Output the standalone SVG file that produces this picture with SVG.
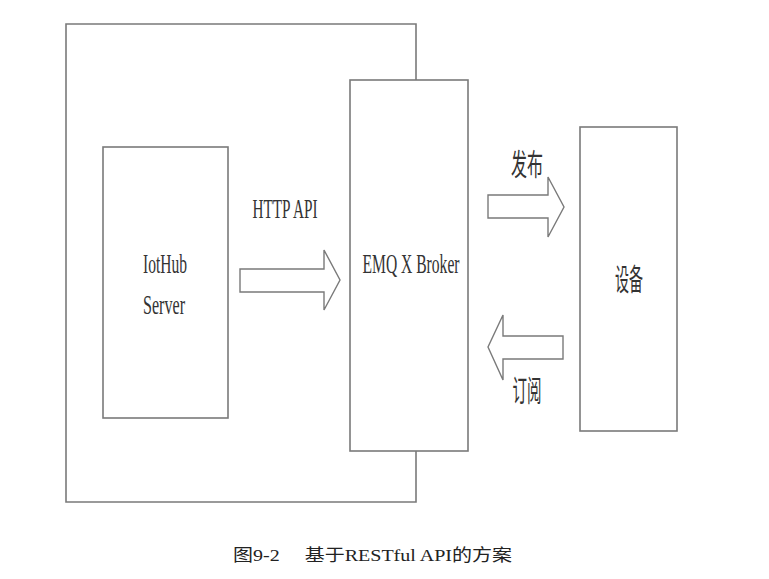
<svg xmlns="http://www.w3.org/2000/svg" width="769" height="579" viewBox="0 0 769 579">
<style>
.box{fill:#fff;stroke:#7a7a7a;stroke-width:1.6}
.arr{fill:#fff;stroke:#7a7a7a;stroke-width:1.4;stroke-linejoin:miter}
.t{font-family:"Liberation Serif","Noto Sans CJK SC",serif;font-size:27px;fill:#333;text-anchor:middle}
.z{font-family:"Noto Sans CJK SC",sans-serif;font-size:30px;fill:#333;text-anchor:middle}
.c{font-family:"Liberation Serif","Noto Sans CJK SC",serif;font-size:17px;fill:#222}
</style>
<rect width="769" height="579" fill="#fff"/>
<g id="outer"><polyline class="box" points="416,80 416,24 66,24 66,502 416,502 416,451" style="fill:none"/></g>
<g id="iothub"><rect class="box" x="103" y="147" width="125" height="271"/>
<text class="t" x="165" y="273" textLength="44" lengthAdjust="spacingAndGlyphs">IotHub</text>
<text class="t" x="164" y="314" textLength="42" lengthAdjust="spacingAndGlyphs">Server</text></g>
<g id="broker"><rect class="box" x="350" y="80" width="118" height="371"/>
<text class="t" x="411" y="273" textLength="97" lengthAdjust="spacingAndGlyphs">EMQ X Broker</text></g>
<g id="device"><rect class="box" x="580" y="127" width="97" height="304"/>
<text class="z" x="629" y="290" textLength="28" lengthAdjust="spacingAndGlyphs">设备</text></g>
<g id="connectors">
<polygon class="arr" points="240,269 324,269 324,250 340,280 324,310 324,292 240,292"/>
<text class="t" x="285" y="218" textLength="65" lengthAdjust="spacingAndGlyphs">HTTP API</text>
<polygon class="arr" points="488,195 548,195 548,177 564,207 548,237 548,218 488,218"/>
<text class="z" x="527" y="175" textLength="32" lengthAdjust="spacingAndGlyphs">发布</text>
<polygon class="arr" points="563,336 503,336 503,315 488,347 503,380 503,359 563,359"/>
<text class="z" x="527" y="401" textLength="29" lengthAdjust="spacingAndGlyphs">订阅</text>
</g>
<text class="c" x="233" y="561" textLength="279" lengthAdjust="spacingAndGlyphs">图9-2　 基于RESTful API的方案</text>
</svg>
